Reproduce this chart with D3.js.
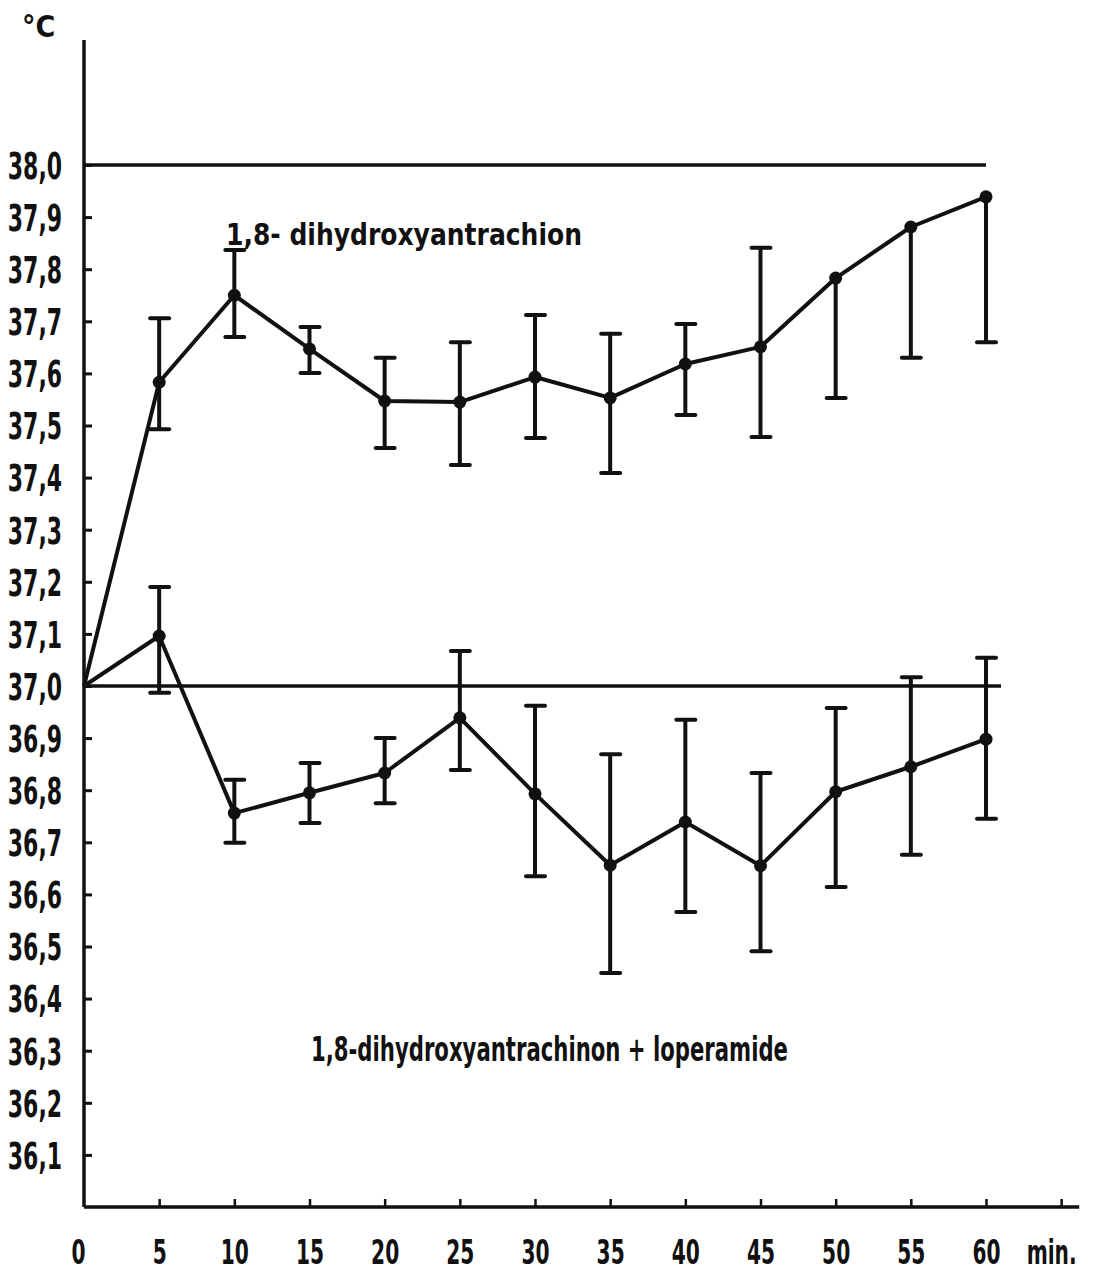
<!DOCTYPE html>
<html>
<head>
<meta charset="utf-8">
<script src="https://cdnjs.cloudflare.com/ajax/libs/d3/7.8.5/d3.min.js"></script>
<style>
  body { margin: 0; background: #fff; }
  svg text { font-family: "DejaVu Sans Condensed", "DejaVu Sans", sans-serif; font-weight: bold; font-stretch: condensed; fill: #111; }
</style>
</head>
<body>
<script>
// chart.js

var width = 1102,
    height = 1278;

// time in minutes
var minutes = [0, 5, 10, 15, 20, 25, 30, 35, 40, 45, 50, 55, 60];

// 1,8-dihydroxyantrachion (mean, upper and lower end of the bar)
var meanA  = [37.0, 37.583, 37.750, 37.647, 37.547, 37.545, 37.593, 37.553, 37.618, 37.651, 37.783, 37.881, 37.939];
var upperA = [null, 37.706, 37.837, 37.689, 37.630, 37.660, 37.712, 37.676, 37.695, 37.841, null, null, null];
var lowerA = [null, 37.493, 37.670, 37.601, 37.457, 37.424, 37.476, 37.409, 37.520, 37.478, 37.553, 37.630, 37.660];

// 1,8-dihydroxyantrachinon + loperamide
var meanB  = [37.0, 37.096, 36.756, 36.795, 36.833, 36.939, 36.793, 36.656, 36.739, 36.655, 36.797, 36.845, 36.898];
var upperB = [null, 37.190, 36.820, 36.852, 36.900, 37.067, 36.962, 36.869, 36.935, 36.833, 36.958, 37.017, 37.054];
var lowerB = [null, 36.987, 36.699, 36.737, 36.775, 36.839, 36.635, 36.449, 36.566, 36.491, 36.614, 36.676, 36.745];

// axis ticks
var yTicks = [36.1, 36.2, 36.3, 36.4, 36.5, 36.6, 36.7, 36.8, 36.9, 37.0, 37.1, 37.2, 37.3, 37.4, 37.5, 37.6, 37.7, 37.8, 37.9, 38.0];
var xTicks = [0, 5, 10, 15, 20, 25, 30, 35, 40, 45, 50, 55, 60, 65];
var xUnitTick = 65; // "min." sits under this one

// horizontal reference lines (value, last minute)
var refValues = [38.0, 37.0];
var refEnds = [60, 61];

var labelA = "1,8- dihydroxyantrachion";
var labelB = "1,8-dihydroxyantrachinon + loperamide";

var svg = d3.select("body").append("svg")
    .attr("width", width)
    .attr("height", height);

var xScale = d3.scaleLinear().domain([0, 60]).range([84, 986]);
var yScale = d3.scaleLinear().domain([36.0, 38.0]).range([1207, 165]);

// Axis lines (drawn by hand, the y axis runs above the last tick)
svg.append("line")
    .attr("x1", xScale(0)).attr("x2", xScale(0))
    .attr("y1", yScale(38.24)).attr("y2", yScale(36.0))
    .attr("stroke", "#111").attr("stroke-width", 3.5);

svg.append("line")
    .attr("x1", xScale(0)).attr("x2", xScale(66.2))
    .attr("y1", yScale(36.0)).attr("y2", yScale(36.0))
    .attr("stroke", "#111").attr("stroke-width", 3.5);

// y axis
var yAxis = d3.axisLeft(yScale)
    .tickValues(yTicks)
    .tickSize(-8)
    .tickSizeOuter(0)
    .tickFormat(function(d) { return d.toFixed(1).replace(".", ","); });

var gy = svg.append("g")
    .attr("transform", "translate(" + xScale(0) + ",0)")
    .call(yAxis);
gy.select(".domain").remove();
gy.selectAll(".tick line").attr("stroke", "#111").attr("stroke-width", 3);
gy.selectAll(".tick text")
    .attr("x", -22 / 0.66)
    .attr("dy", "0.36em")
    .attr("transform", "scale(0.66,1)")
    .style("font-size", "37px");

// x axis
var xAxis = d3.axisBottom(xScale)
    .tickValues(xTicks)
    .tickSize(-8)
    .tickSizeOuter(0)
    .tickFormat(function(d) { return d == xUnitTick ? "min." : d; });

var gx = svg.append("g")
    .attr("transform", "translate(0," + yScale(36.0) + ")")
    .call(xAxis);
gx.select(".domain").remove();
gx.selectAll(".tick line")
    .attr("stroke", "#111").attr("stroke-width", 2.5)
    .style("display", function(d) { return d == 0 ? "none" : null; });
gx.selectAll(".tick text")
    .attr("y", 0)
    .attr("dy", 0)
    .attr("transform", function(d) {
        var dx = d == 0 ? -6 : (d == xUnitTick ? -10 : 0);
        return "translate(" + dx + ",57) scale(0.66,1)";
    })
    .style("font-size", "34px");

// degree label
svg.append("text")
    .attr("x", 22).attr("y", 37)
    .style("font-size", "30px")
    .text("°C");

// reference lines at 38,0 and 37,0
svg.selectAll(".ref").data(refValues).enter().append("line")
    .attr("class", "ref")
    .attr("x1", xScale(0))
    .attr("x2", function(d, i) { return xScale(refEnds[i]); })
    .attr("y1", function(d) { return yScale(d); })
    .attr("y2", function(d) { return yScale(d); })
    .attr("stroke", "#111").attr("stroke-width", 3.5);

// draws one series with its error bars
function drawSeries(mean, upper, lower) {
    var pts = minutes.map(function(m, i) {
        return { t: m, v: mean[i], hi: upper[i], lo: lower[i] };
    });

    var line = d3.line()
        .x(function(d) { return xScale(d.t); })
        .y(function(d) { return yScale(d.v); });

    var g = svg.append("g");

    var bars = pts.filter(function(d) { return d.lo != null; });

    // stems
    g.selectAll(".stem").data(bars).enter().append("line")
        .attr("x1", function(d) { return xScale(d.t); })
        .attr("x2", function(d) { return xScale(d.t); })
        .attr("y1", function(d) { return yScale(d.lo); })
        .attr("y2", function(d) { return yScale(d.hi != null ? d.hi : d.v); })
        .attr("stroke", "#111").attr("stroke-width", 4);

    // caps
    var caps = [];
    bars.forEach(function(d) {
        caps.push({ t: d.t, v: d.lo });
        if (d.hi != null) caps.push({ t: d.t, v: d.hi });
    });
    g.selectAll(".cap").data(caps).enter().append("line")
        .attr("x1", function(d) { return xScale(d.t) - 9; })
        .attr("x2", function(d) { return xScale(d.t) + 10; })
        .attr("y1", function(d) { return yScale(d.v); })
        .attr("y2", function(d) { return yScale(d.v); })
        .attr("stroke", "#111").attr("stroke-width", 4)
        .attr("stroke-linecap", "round");

    g.append("path")
        .datum(pts)
        .attr("d", line)
        .attr("fill", "none")
        .attr("stroke", "#111")
        .attr("stroke-width", 4)
        .attr("stroke-linejoin", "round");

    g.selectAll("circle").data(pts.slice(1)).enter().append("circle")
        .attr("cx", function(d) { return xScale(d.t); })
        .attr("cy", function(d) { return yScale(d.v); })
        .attr("r", 6.5)
        .attr("fill", "#111");
}

drawSeries(meanA, upperA, lowerA);
drawSeries(meanB, upperB, lowerB);

// series labels
svg.append("text")
    .attr("x", 226).attr("y", 245)
    .attr("textLength", 356)
    .attr("lengthAdjust", "spacingAndGlyphs")
    .style("font-size", "30px")
    .text(labelA);

svg.append("text")
    .attr("x", 311).attr("y", 1061)
    .attr("textLength", 477)
    .attr("lengthAdjust", "spacingAndGlyphs")
    .style("font-size", "33px")
    .text(labelB);
</script>
</body>
</html>
